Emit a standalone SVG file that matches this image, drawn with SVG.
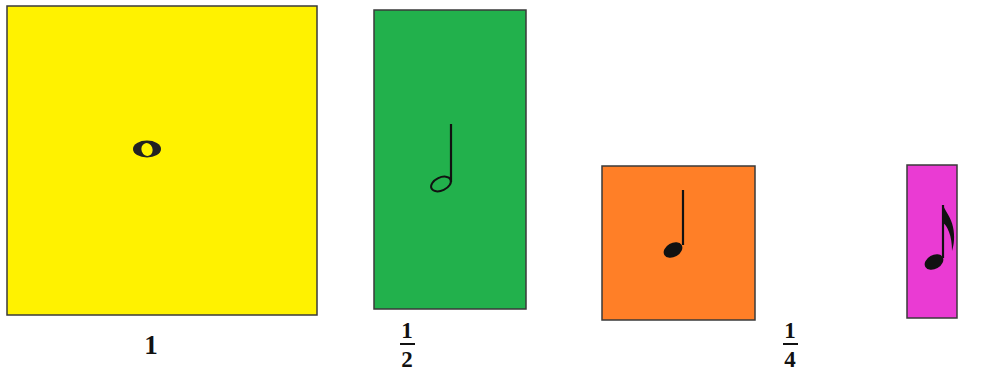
<svg xmlns="http://www.w3.org/2000/svg" width="985" height="372" viewBox="0 0 985 372">
<style>
.box{stroke:#3a3a3a;stroke-width:1.5}
.t{font-family:"Liberation Serif","DejaVu Serif",serif;font-weight:bold;font-size:23px;text-anchor:middle;fill:#111}
.big{font-size:27px}
.stem{stroke:#111;stroke-width:2.2;fill:none}
</style>
<rect width="985" height="372" fill="#fff"/>
<g id="whole">
<rect class="box" x="7" y="6" width="310" height="309" fill="#FFF200"/>
<ellipse cx="147" cy="149" rx="14" ry="8.5" fill="#222"/>
<ellipse cx="147" cy="149.5" rx="5.5" ry="6.5" transform="rotate(-20 147 149.5)" fill="#FFF200"/>
</g>
<g id="half">
<rect class="box" x="374" y="10" width="152" height="299" fill="#22B14C"/>
<line class="stem" x1="451" y1="124" x2="451" y2="182"/>
<ellipse cx="441" cy="184" rx="10.5" ry="6.5" transform="rotate(-25 441 184)" fill="none" stroke="#111" stroke-width="2"/>
</g>
<g id="quarter">
<rect class="box" x="602" y="166" width="153" height="154" fill="#FF7F27"/>
<line class="stem" x1="683" y1="190" x2="683" y2="245"/>
<ellipse cx="673" cy="250" rx="10" ry="7" transform="rotate(-30 673 250)" fill="#111"/>
</g>
<g id="eighth">
<rect class="box" x="907" y="165" width="50" height="153" fill="#EA3BD3"/>
<line class="stem" x1="943" y1="205" x2="943" y2="258"/>
<path d="M943 205 C945 211,951 217,953 227 C955 236,954 245,952 251 C952 244,951 237,949 232 C947 227,946 225,943 223 Z" fill="#111"/>
<ellipse cx="934" cy="262" rx="10" ry="7" transform="rotate(-30 934 262)" fill="#111"/>
</g>
<g id="labels">
<text class="t big" x="151" y="354">1</text>
<text class="t" x="407" y="338">1</text>
<rect x="400" y="343" width="15" height="2" fill="#111"/>
<text class="t" x="407" y="367">2</text>
<text class="t" x="790" y="338">1</text>
<rect x="783" y="343" width="15" height="2" fill="#111"/>
<text class="t" x="790" y="367">4</text>
</g>
</svg>
